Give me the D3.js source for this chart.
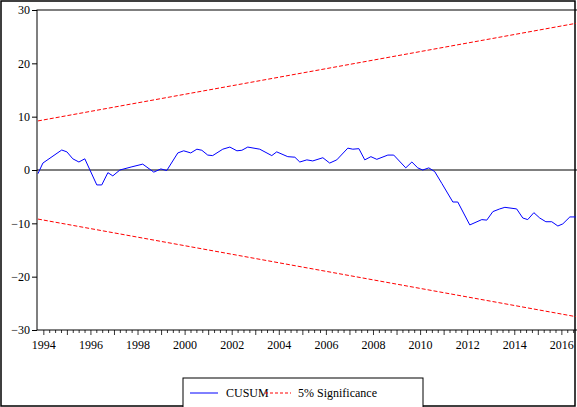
<!DOCTYPE html>
<html>
<head>
<meta charset="utf-8">
<script src="https://cdnjs.cloudflare.com/ajax/libs/d3/7.8.5/d3.min.js"></script>
<style>
  html, body { margin: 0; padding: 0; background: #fff; }
  svg, svg text { font-family: 'Liberation Serif', 'DejaVu Serif', serif; }
</style>
</head>
<body>
<div id="chart"></div>
<script>
// CUSUM path (decimal year, value)
const cusumYears = [1993.75,1993.96,1994.76,1994.98,1995.23,1995.49,1995.74,1996.25,1996.46,1996.72,1996.93,1997.23,1997.74,1998.2,1998.67,1998.97,1999.22,1999.69,1999.94,2000.24,2000.5,2000.71,2000.96,2001.17,2001.6,2001.9,2002.2,2002.41,2002.66,2003.17,2003.68,2003.89,2004.36,2004.66,2004.87,2005.17,2005.42,2005.85,2006.14,2006.44,2006.91,2007.12,2007.38,2007.63,2007.89,2008.14,2008.61,2008.86,2009.37,2009.63,2009.88,2010.09,2010.35,2010.6,2010.9,2011.37,2011.58,2012.09,2012.6,2012.81,2013.07,2013.36,2013.58,2014.08,2014.34,2014.55,2014.81,2015.06,2015.32,2015.57,2015.83,2016.04,2016.34,2016.59]
const cusumValues = [-0.7,1.3,3.75,3.4,2.1,1.5,2.1,-2.8,-2.8,-0.5,-1.1,0,0.6,1.1,-0.4,0.2,-0.1,3.2,3.6,3.2,3.9,3.7,2.8,2.7,3.9,4.3,3.6,3.7,4.3,3.9,2.7,3.4,2.5,2.4,1.5,1.9,1.7,2.3,1.3,1.9,4.1,3.9,4.0,1.9,2.5,2.0,2.8,2.8,0.4,1.5,0.4,0,0.4,-0.3,-2.5,-6.0,-6.0,-10.3,-9.3,-9.4,-7.8,-7.3,-7.0,-7.3,-9.0,-9.3,-8.0,-9.0,-9.7,-9.7,-10.5,-10.1,-8.8,-8.8]
const bandYears = [1993.75, 2016.6]
const upperBand = [9.2, 27.5]
const lowerBand = [-9.2, -27.5]
const yTicks = [-30, -20, -10, 0, 10, 20, 30]
const xLabels = [1994,1996,1998,2000,2002,2004,2006,2008,2010,2012,2014,2016]

const W = 577, H = 407
const svg = d3.select('#chart').append('svg').attr('width', W).attr('height', H)

// outer frame
svg.append('rect').attr('x', 1).attr('y', 1).attr('width', 574).attr('height', 405)
   .attr('fill', 'none').attr('stroke', '#000').attr('stroke-width', 1.5)

const x = d3.scaleLinear().domain([1993.71, 2016.6]).range([37, 576])
const y = d3.scaleLinear().domain([-30, 30]).range([330, 10])

// plot frame
svg.append('rect').attr('x', 37).attr('y', 10).attr('width', 545).attr('height', 320)
   .attr('fill', 'none').attr('stroke', '#000').attr('stroke-width', 1)

// zero line
svg.append('line').attr('x1', 37).attr('x2', 577).attr('y1', y(0)).attr('y2', y(0))
   .attr('stroke', '#000').attr('stroke-width', 1)

// y axis
const yAxis = svg.append('g').attr('transform', 'translate(37,0)')
   .call(d3.axisLeft(y).tickValues(yTicks).tickSize(5).tickPadding(2))
   .attr('font-family', 'Liberation Serif, serif').attr('font-size', 12)
yAxis.select('.domain').remove()

// x axis: quarterly minor ticks, labels every 2 years
const quarters = d3.range(1994, 2016.76, 0.25)
const xg = svg.append('g').attr('transform', 'translate(0,330)')
xg.selectAll('line').data(quarters).enter().append('line')
   .attr('x1', d => x(d)).attr('x2', d => x(d))
   .attr('y1', 0).attr('y2', d => Number.isInteger(d) ? 5 : 3)
   .attr('stroke', '#000').attr('stroke-width', 0.8)
xg.selectAll('text').data(xLabels).enter().append('text')
   .attr('x', d => x(d)).attr('y', 19).attr('text-anchor', 'middle')
   .attr('font-size', 12).text(d => d)

// bands
const line = d3.line().x(d => x(d[0])).y(d => y(d[1]))
for (const band of [upperBand, lowerBand]) {
  svg.append('path').datum(bandYears.map((t, i) => [t, band[i]]))
     .attr('d', line).attr('fill', 'none').attr('stroke', '#ff0000')
     .attr('stroke-width', 1).attr('stroke-dasharray', '4,2')
}

// CUSUM
svg.append('path').datum(cusumYears.map((t, i) => [t, cusumValues[i]]))
   .attr('d', line).attr('fill', 'none').attr('stroke', '#0000ff').attr('stroke-width', 1)

// legend
const lg = svg.append('g')
lg.append('rect').attr('x', 183).attr('y', 378).attr('width', 240).attr('height', 30)
  .attr('fill', '#fff').attr('stroke', '#000').attr('stroke-width', 1)
lg.append('line').attr('x1', 190).attr('x2', 218).attr('y1', 393).attr('y2', 393).attr('stroke', '#0000ff')
lg.append('text').attr('x', 226).attr('y', 397).attr('font-size', 12).text('CUSUM')
lg.append('line').attr('x1', 265).attr('x2', 291).attr('y1', 393).attr('y2', 393)
  .attr('stroke', '#ff0000').attr('stroke-dasharray', '3,2')
lg.append('text').attr('x', 298).attr('y', 397).attr('font-size', 12).text('5% Significance')
</script>
</body>
</html>
